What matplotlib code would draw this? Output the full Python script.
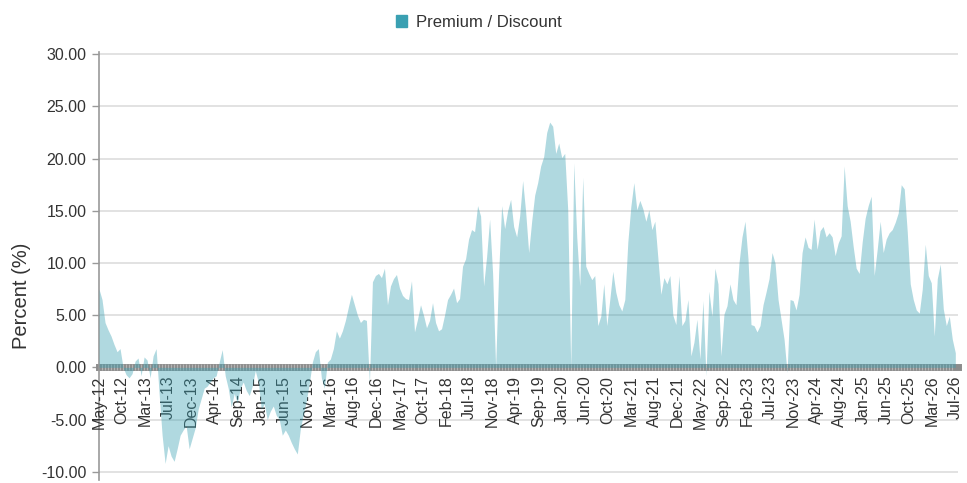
import numpy as np
import matplotlib
matplotlib.use("Agg")
import matplotlib.pyplot as plt
from matplotlib.ticker import FixedLocator, MultipleLocator

plt.rcParams['font.family'] = ['Liberation Sans', 'DejaVu Sans']

SERIES_NAME = "Premium / Discount"

# premium / discount in percent, evenly spaced observations May-12 .. Jul-26
values = [
    7.5, 6.5, 4.3, 3.6, 3.0, 2.2, 1.5, 1.8, 0.0, -0.7,
    -1.0, -0.6, 0.6, 0.9, -0.8, 1.0, 0.7, -1.0, 1.1, 1.8,
    -2.5, -6.5, -9.2, -7.5, -8.5, -9.0, -7.8, -6.5, -6.0, -5.6,
    -7.8, -6.8, -5.8, -4.0, -3.0, -2.0, -1.8, -1.4, -1.0, -0.8,
    0.5, 1.7, -0.8, -2.0, -3.8, -2.5, -3.4, -2.0, -1.4, -2.2,
    -2.7, -1.8, -0.3, -1.4, -4.0, -3.5, -5.0, -4.2, -3.7, -4.6,
    -5.0, -6.5, -6.0, -6.5, -7.2, -7.8, -8.3, -5.9, -4.5, -3.2,
    -1.5, 0.5, 1.5, 1.8, -1.0, -2.0, 0.5, 0.8, 1.8, 3.5,
    2.8, 3.5, 4.5, 5.8, 7.0, 6.0, 5.0, 4.3, 4.6, 4.5,
    -1.5, 8.2, 8.8, 9.0, 8.6, 9.5, 6.0, 7.8, 8.5, 8.9,
    7.6, 6.9, 6.6, 6.5, 8.3, 3.4, 4.6, 6.0, 5.0, 3.8,
    4.5, 6.2, 4.3, 3.5, 3.7, 5.0, 6.5, 7.0, 7.6, 6.2,
    6.6, 9.7, 10.4, 12.3, 13.2, 13.0, 15.5, 14.5, 7.8, 10.6,
    14.2, 9.0, 0.0, 9.0, 15.5, 13.3, 15.0, 16.1, 13.5, 12.5,
    14.5, 17.9, 14.9, 11.0, 14.0, 16.5, 17.7, 19.3, 20.2, 22.5,
    23.5, 23.1, 20.5, 21.5, 20.1, 20.5, 15.1, 0.0, 19.6, 12.5,
    7.8, 18.2, 9.7, 9.0, 8.4, 8.8, 4.0, 4.9, 8.0, 4.0,
    6.5, 9.2, 7.2, 6.0, 5.4, 6.5, 12.0, 15.4, 17.7, 15.1,
    16.0, 15.2, 14.0, 15.1, 13.2, 14.0, 10.5, 7.0, 8.6, 8.0,
    8.8, 5.0, 4.1, 8.8, 4.0, 4.5, 6.5, 1.1, 2.4, 4.6,
    0.8, 6.4, -0.8, 7.3, 4.9, 9.5, 8.0, 1.1, 5.1, 5.9,
    8.0, 6.5, 6.0, 10.0, 12.5, 14.0, 10.4, 4.1, 4.0, 3.4,
    4.0, 6.0, 7.2, 8.5, 11.0, 10.0, 6.5, 4.6, 2.7, -0.5,
    6.5, 6.4, 5.5, 7.0, 11.0, 12.5, 11.5, 11.3, 14.2, 11.3,
    13.1, 13.5, 12.5, 12.9, 12.5, 10.7, 11.9, 12.6, 19.3, 15.5,
    14.0, 11.6, 9.5, 9.0, 12.0, 14.3, 15.5, 16.4, 8.8, 11.3,
    14.0, 11.0, 12.3, 12.9, 13.2, 13.9, 14.8, 17.5, 17.1, 13.0,
    8.0, 6.5, 5.5, 5.2, 7.5, 11.8, 8.8, 8.1, 3.0, 8.5,
    9.9, 5.6, 4.0, 4.9, 2.7, 1.4,
]

tick_labels = [
    "May-12", "Oct-12", "Mar-13", "Jul-13", "Dec-13", "Apr-14", "Sep-14",
    "Jan-15", "Jun-15", "Nov-15", "Mar-16", "Aug-16", "Dec-16", "May-17",
    "Oct-17", "Feb-18", "Jul-18", "Nov-18", "Apr-19", "Sep-19", "Jan-20",
    "Jun-20", "Oct-20", "Mar-21", "Aug-21", "Dec-21", "May-22", "Sep-22",
    "Feb-23", "Jul-23", "Nov-23", "Apr-24", "Aug-24", "Jan-25", "Jun-25",
    "Oct-25", "Mar-26", "Jul-26",
]

y_ticks = [-10, -5, 0, 5, 10, 15, 20, 25, 30]

teal = "#3aa0b2"
text_col = "#333333"

x = np.arange(len(values))
y = np.array(values)

fig = plt.figure(figsize=(9.67, 4.83), dpi=100)
ax = fig.add_axes([0.1024, 0.006, 0.888, 0.886])

ax.fill_between(x, 0, y, color=teal, alpha=0.4, linewidth=0, zorder=3)

ax.set_xlim(0, len(values) - 1 + 0.8)
ax.set_ylim(-10.8, 30.2)

# y axis
ax.yaxis.set_major_locator(FixedLocator(y_ticks))
ax.set_yticklabels([f"{v:.2f}" for v in y_ticks])
ax.tick_params(axis='y', direction='out', length=5, width=1, color='#999999',
               labelsize=11.5, labelcolor=text_col, pad=4)
ax.grid(axis='y', color='#dddddd', linewidth=1.2, zorder=0)
ax.set_axisbelow(True)
ax.set_ylabel("Percent (%)", fontsize=14.5, color=text_col)
ax.yaxis.set_label_coords(-0.079, 0.43)

# x axis sits on zero line, drawn as a thick striped band
ax.spines['bottom'].set_position(('data', 0))
ax.spines['bottom'].set_color('#8c8c8c')
ax.spines['bottom'].set_linewidth(5)
ax.spines['bottom'].set_zorder(2)
ax.spines['top'].set_visible(False)
ax.spines['right'].set_visible(False)
ax.spines['left'].set_color('#999999')
ax.spines['left'].set_linewidth(1.2)
ax.xaxis.set_zorder(2.5)

tick_pos = np.linspace(0, len(values) - 1, len(tick_labels))
ax.xaxis.set_major_locator(FixedLocator(tick_pos))
ax.xaxis.set_minor_locator(MultipleLocator(1))
ax.set_xticklabels(tick_labels, rotation=90, va='top', ha='center')
ax.tick_params(axis='x', which='major', length=0, pad=6,
               labelsize=11.5, labelcolor=text_col)
ax.tick_params(axis='x', which='minor', direction='inout', length=4.6,
               width=0.8, color='#b4b4b4')

# legend
handle = plt.Rectangle((0, 0), 1, 1, color=teal)
fig.legend([handle], [SERIES_NAME], loc='upper center',
           bbox_to_anchor=(0.495, 1.0), frameon=False, fontsize=12,
           handlelength=0.7, handleheight=0.7, handletextpad=0.5,
           labelcolor=text_col)

fig.savefig("out.png", dpi=100)
